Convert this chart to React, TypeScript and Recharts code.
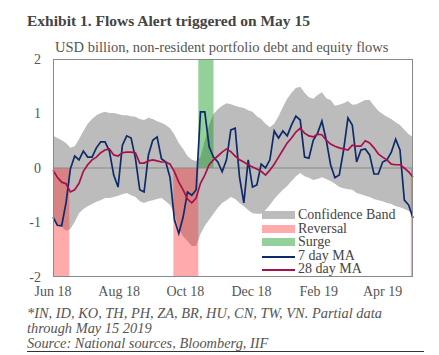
import React from 'react';
import { ComposedChart, Area, Line, XAxis, YAxis, ReferenceArea, ReferenceLine } from 'recharts';

// day offsets from 1 Jun 2018, sampled every 4 days
const days = [
  0, 4, 8, 12, 16, 20, 24, 28, 32, 36, 40, 44, 48, 52, 56, 60, 64, 68, 72, 76, 80,
  84, 88, 92, 96, 100, 104, 108, 112, 116, 120, 124, 128, 132, 136, 140, 144, 148,
  152, 156, 160, 164, 168, 172, 176, 180, 184, 188, 192, 196, 200, 204, 208, 212,
  216, 220, 224, 228, 232, 236, 240, 244, 248, 252, 256, 260, 264, 268, 272, 276,
  280, 284, 288, 292, 296, 300, 304, 308, 312, 316, 320, 324, 328, 332,
];

const bandUpper = [
  0.59, 0.55, 0.51, 0.46, 0.37, 0.4, 0.53, 0.68, 0.81, 0.9, 0.97, 1.01, 1.03, 1.01,
  1.01, 0.99, 0.97, 0.97, 0.95, 0.94, 0.9, 0.88, 0.92, 0.9, 0.86, 0.83, 0.79, 0.73,
  0.61, 0.46, 0.35, 0.22, 0.15, 0.13, 0.2, 0.51, 0.79, 0.99, 1.08, 1.14, 1.19, 1.17,
  1.14, 1.12, 1.1, 1.06, 1.03, 0.95, 0.9, 0.81, 0.75, 0.81, 0.95, 1.12, 1.27, 1.38,
  1.47, 1.49, 1.38, 1.3, 1.27, 1.34, 1.39, 1.28, 1.25, 1.14, 1.16, 1.19, 1.23, 1.16,
  1.17, 1.21, 1.25, 1.25, 1.14, 1.05, 0.99, 0.94, 0.9, 0.84, 0.79, 0.7, 0.62, 0.57,
];

const bandLower = [
  -0.95, -1.02, -1.08, -1.15, -1.12, -0.99, -0.83, -0.75, -0.7, -0.66, -0.62, -0.59,
  -0.55, -0.55, -0.53, -0.51, -0.48, -0.46, -0.5, -0.53, -0.61, -0.64, -0.61, -0.59,
  -0.57, -0.55, -0.61, -0.68, -0.83, -1.12, -1.25, -1.34, -1.43, -1.43, -1.21, -1.06,
  -0.95, -0.84, -0.73, -0.64, -0.59, -0.53, -0.57, -0.64, -0.7, -0.77, -0.83, -0.84,
  -0.84, -0.77, -0.68, -0.57, -0.48, -0.4, -0.33, -0.24, -0.15, -0.09, -0.15, -0.18,
  -0.22, -0.2, -0.17, -0.2, -0.24, -0.29, -0.35, -0.37, -0.39, -0.4, -0.46, -0.48,
  -0.51, -0.53, -0.57, -0.59, -0.61, -0.64, -0.66, -0.7, -0.72, -0.75, -0.79, -0.83,
];

const ma7 = [
  -0.9, -1.05, -1.06, -0.64, -0.02, 0.22, 0.15, 0.31, 0.2, 0.2, 0.37, 0.48, 0.48,
  0.31, -0.13, -0.35, 0.42, 0.59, 0.55, 0.18, -0.4, -0.44, 0.24, 0.51, 0.57, 0.17,
  0.11, -0.18, -0.95, -1.2, -0.9, -0.44, -0.5, -0.4, 1.03, 1.03, 0.39, 0.2, 0.11,
  -0.07, 0.15, 0.7, 0.73, -0.17, -0.64, 0.15, -0.35, -0.31, 0.07, 0.0, 0.15, 0.68,
  0.55, 0.68, 0.59, 0.79, 0.95, 0.88, 0.2, 0.18, 0.51, 0.64, 0.86, 0.51, 0.06, -0.18,
  -0.13, 0.33, 0.92, 0.79, 0.11, 0.33, 0.35, 0.24, -0.11, -0.11, 0.11, 0.15, 0.29,
  0.53, 0.33, -0.59, -0.68, -0.92,
];

const ma28 = [
  -0.04, -0.17, -0.26, -0.29, -0.44, -0.4, -0.28, -0.06, 0.06, 0.15, 0.2, 0.28, 0.33,
  0.35, 0.24, 0.22, 0.28, 0.29, 0.29, 0.28, 0.09, 0.09, 0.13, 0.15, 0.13, 0.11, 0.11,
  0.07, -0.07, -0.26, -0.4, -0.57, -0.64, -0.55, -0.28, -0.13, 0.06, 0.15, 0.22, 0.29,
  0.35, 0.3, 0.22, 0.15, 0.11, 0.06, 0.02, -0.02, -0.06, -0.13, -0.04, 0.07, 0.2, 0.33,
  0.46, 0.55, 0.66, 0.73, 0.64, 0.59, 0.57, 0.62, 0.61, 0.51, 0.44, 0.4, 0.37, 0.35,
  0.33, 0.42, 0.4, 0.4, 0.5, 0.46, 0.37, 0.26, 0.2, 0.15, 0.07, 0.06, 0.06, 0.0, -0.07,
  -0.17,
];

const reversals = [
  [0, 15],
  [111, 134],
  [330, 332],
];
const surges = [[134, 148]];

const tickDays = [0, 61, 122, 183, 245, 304];
const tickLabels = ['Jun 18', 'Aug 18', 'Oct 18', 'Dec 18', 'Feb 19', 'Apr 19'];

const data = days.map((d, i) => ({
  day: d,
  band: [bandLower[i], bandUpper[i]],
  ma7: ma7[i],
  ma28: ma28[i],
}));

const FONT = '"Liberation Serif", serif';

const legendItems = [
  { label: 'Confidence Band', kind: 'box', color: '#bcbcbc' },
  { label: 'Reversal', kind: 'box', color: '#ffabab' },
  { label: 'Surge', kind: 'box', color: '#93d09a' },
  { label: '7 day MA', kind: 'line', color: '#0d2a6b' },
  { label: '28 day MA', kind: 'line', color: '#a8104a' },
];

export default function App() {
  return (
    <div style={{ position: 'absolute', left: 0, top: 0, width: 439, height: 355, background: '#fff', fontFamily: FONT }}>
      <div style={{ position: 'absolute', left: 27, top: 12, fontSize: 15.5, fontWeight: 700, color: '#444', whiteSpace: 'nowrap' }}>
        Exhibit 1. Flows Alert triggered on May 15
      </div>
      <div style={{ position: 'absolute', left: 55, top: 39, fontSize: 14.5, color: '#555', whiteSpace: 'nowrap' }}>
        USD billion, non-resident portfolio debt and equity flows
      </div>

      <div style={{ position: 'absolute', left: 0, top: 0 }}>
        <ComposedChart width={439} height={355} data={data} margin={{ top: 59, right: 26, bottom: 58, left: 13 }}>
          <XAxis
            dataKey="day"
            type="number"
            domain={[0, 332]}
            ticks={tickDays}
            tickFormatter={(v: number) => tickLabels[tickDays.indexOf(v)]}
            axisLine={false}
            tickLine={false}
            tickSize={0}
            tickMargin={9}
            height={20}
            interval={0}
            tick={{ fontSize: 14, fill: '#555', fontFamily: FONT }}
          />
          <YAxis
            type="number"
            domain={[-2, 2]}
            ticks={[-2, -1, 0, 1, 2]}
            axisLine={false}
            tickLine={false}
            tickSize={0}
            tickMargin={12}
            width={40}
            tick={{ fontSize: 14, fill: '#555', fontFamily: FONT }}
          />
          <Area
            dataKey="band"
            type="linear"
            stroke="none"
            fill="#bcbcbc"
            fillOpacity={1}
            isAnimationActive={false}
            activeDot={false}
          />
          {reversals.map(([a, b], i) => (
            <ReferenceArea key={'r' + i} x1={a} x2={b} y1={-2} y2={0} fill="#ff2d2d" fillOpacity={0.4} stroke="none" />
          ))}
          {surges.map(([a, b], i) => (
            <ReferenceArea key={'s' + i} x1={a} x2={b} y1={0} y2={2} fill="#10971f" fillOpacity={0.45} stroke="none" />
          ))}
          <ReferenceLine y={0} stroke="#8a8a8a" strokeWidth={1} />
          <Line dataKey="ma7" type="linear" stroke="#0d2a6b" strokeWidth={1.7} dot={false} isAnimationActive={false} />
          <Line dataKey="ma28" type="linear" stroke="#a8104a" strokeWidth={1.7} dot={false} isAnimationActive={false} />
        </ComposedChart>
      </div>

      {/* plot frame */}
      <div style={{ position: 'absolute', left: 53, top: 59, width: 360, height: 218, border: '1px solid #8a8a8a', boxSizing: 'border-box', pointerEvents: 'none' }} />

      {/* legend */}
      {legendItems.map((it, i) => (
        <div
          key={it.label}
          style={{ position: 'absolute', left: 262, top: 208 + i * 13.5, height: 14, display: 'flex', alignItems: 'center', fontSize: 14, lineHeight: '14px', color: '#444', whiteSpace: 'nowrap' }}
        >
          <div style={{ width: 33, height: it.kind === 'box' ? 8 : 2, background: it.color, marginTop: it.kind === 'box' ? 0 : 2 }} />
          <span style={{ marginLeft: 3 }}>{it.label}</span>
        </div>
      ))}

      {/* footnote */}
      <div style={{ position: 'absolute', left: 27, top: 306, fontSize: 14.4, lineHeight: '15px', fontStyle: 'italic', color: '#555', whiteSpace: 'nowrap' }}>
        <div>*IN, ID, KO, TH, PH, ZA, BR, HU, CN, TW, VN. Partial data</div>
        <div>through May 15 2019</div>
        <div>Source: National sources, Bloomberg, IIF</div>
      </div>
      <div style={{ position: 'absolute', left: 27, top: 351, width: 397, height: 1, background: '#333' }} />
    </div>
  );
}
